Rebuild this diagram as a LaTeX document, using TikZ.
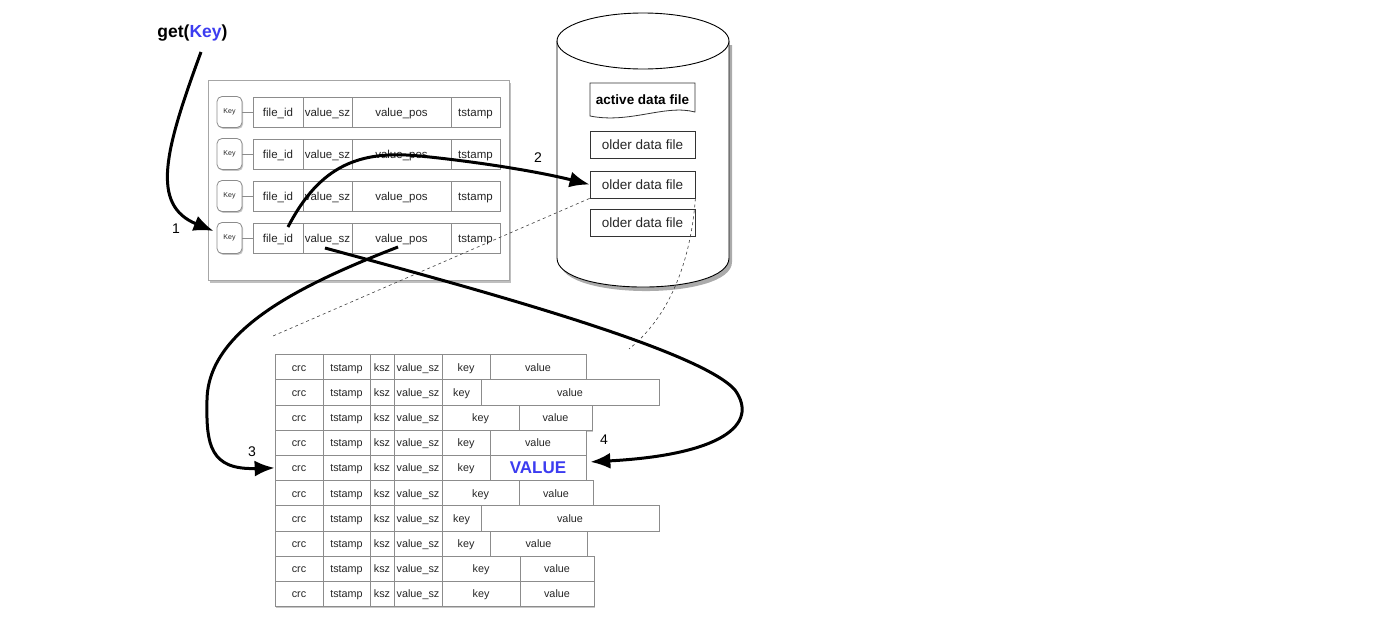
\documentclass[tikz,border=0pt]{standalone}
\usepackage{fontspec}
\setmainfont{Liberation Sans}
\usetikzlibrary{arrows.meta,shadows}
\definecolor{keyblue}{RGB}{60,60,240}
\definecolor{cellgray}{RGB}{140,140,140}
\newcommand\bigVALUEtext{\raisebox{-2.1pt}{\textcolor{keyblue}{\bfseries\fontsize{17}{18}\selectfont VALUE}}}
\begin{document}
\begin{tikzpicture}[x=1pt,y=-1pt,
  softshadow/.style={drop shadow={shadow xshift=1.2pt,shadow yshift=-1.4pt,opacity=.45,fill=black!50}},
  kcell/.style={draw=cellgray,line width=0.8pt,fill=white,minimum height=30pt,inner sep=0pt,
    text height=11.2pt,text depth=2.8pt,
    text=black!85,font=\fontsize{11.5}{12}\selectfont,softshadow},
  keybox/.style={draw=cellgray,line width=0.8pt,rounded corners=5pt,fill=white,minimum width=25pt,
    minimum height=31pt,inner sep=0pt,text=black!85,font=\fontsize{7}{8}\selectfont,softshadow},
  dcell/.style={draw=cellgray,line width=0.7pt,fill=white,minimum height=25.2pt,inner sep=0pt,
    text height=10.5pt,text depth=2.6pt,
    text=black!85,font=\fontsize{10.8}{12}\selectfont,softshadow},
  ofile/.style={draw=black!80,line width=0.8pt,fill=white,minimum width=105pt,minimum height=27pt,
    inner sep=0pt,text=black!85,font=\fontsize{13.5}{14}\selectfont},
  flow/.style={line width=3pt,-{Latex[length=20pt,width=16pt]}},
  num/.style={font=\fontsize{14}{16}\selectfont},
  guide/.style={dash pattern=on 3pt off 3pt,line width=0.6pt,black!75}
]
\useasboundingbox (0,0) rectangle (1400,627);

% get(Key)
\node[font=\bfseries\fontsize{17.5}{19}\selectfont] (gk) at (192.5,33) {get(\textcolor{keyblue}{Key})};

% keydir
\node[draw=black!35,line width=0.8pt,fill=white,minimum width=301pt,minimum height=200pt,
  drop shadow={shadow xshift=2pt,shadow yshift=-2.5pt,opacity=.5,fill=black!50}] (kd) at (358.5,180) {};
\foreach \i/\y in {1/112,2/154,3/196,4/238}{
  \node[keybox] (key\i) at (229.5,\y) {Key};
  \node[kcell,minimum width=50pt] (fid\i) at (278,\y) {file\_id};
  \node[kcell,minimum width=49pt] (vsz\i) at (327.5,\y) {value\_sz};
  \node[kcell,minimum width=99pt] (vpos\i) at (401.5,\y) {value\_pos};
  \node[kcell,minimum width=49pt] (ts\i) at (475.5,\y) {tstamp};
  \draw[cellgray,line width=0.8pt] (key\i) -- (fid\i);
}

% cylinder
\fill[black!55,opacity=.6] (560,45) -- (560,262) .. controls (560,300.7) and (732,300.7) .. (732,262) -- (732,45) -- cycle;
\path[fill=white] (557,41) -- (557,258) .. controls (557,296.7) and (729,296.7) .. (729,258) -- (729,41) -- cycle;
\draw[line width=0.9pt] (557,41) -- (557,258) .. controls (557,296.7) and (729,296.7) .. (729,258) -- (729,41);
\draw[line width=0.9pt,fill=white] (643,41) ellipse [x radius=86,y radius=28];

% data files
\draw[black!80,line width=0.8pt,fill=white] (590,83) -- (695,83) -- (695,112)
  .. controls (665,104) and (630,124) .. (590,116) -- cycle;
\node[font=\bfseries\fontsize{13.5}{14}\selectfont] (act) at (642.5,100) {active data file};
\node[ofile] (od1) at (642.5,145) {older data file};
\node[ofile] (od2) at (642.5,184.5) {older data file};
\node[ofile] (od3) at (642.5,223) {older data file};

% data file records
\foreach \i/\kr/\vr/\vt in {1/490/586/value,2/481/659/value,3/519/592/value,4/490/586/value,
  5/490/586/\bigVALUEtext,6/519/593/value,7/481/659/value,8/490/587/value,9/520/594/value,10/520/594/value}{
  \pgfmathsetmacro\yc{354.5+(\i-1)*25.2+12.6}
  \pgfmathsetmacro\kc{(442+\kr)/2}
  \pgfmathsetmacro\kw{\kr-442}
  \pgfmathsetmacro\vc{(\kr+\vr)/2}
  \pgfmathsetmacro\vw{\vr-\kr}
  \node[dcell,minimum width=48pt] (crc\i) at (299,\yc) {crc};
  \node[dcell,minimum width=47pt] (dts\i) at (346.5,\yc) {tstamp};
  \node[dcell,minimum width=24pt] (ksz\i) at (382,\yc) {ksz};
  \node[dcell,minimum width=48pt] (dvs\i) at (418,\yc) {value\_sz};
  \node[dcell,minimum width=\kw pt] (dk\i) at (\kc,\yc) {key};
  \node[dcell,minimum width=\vw pt] (dv\i) at (\vc,\yc) {\vt};
}

% guide (dashed) lines
\coordinate (gl) at (273,336);
\coordinate (gr) at (629,349);
\draw[guide] (od2.south west) -- (gl);
\draw[guide] (od2.south east) .. controls (690,270) and (665,320) .. (gr);

% flow arrows
\coordinate (s1) at (201,52);
\coordinate (s2) at ([xshift=10pt,yshift=11pt]fid4.center);
\coordinate (s3) at ([xshift=-3.5pt,yshift=-9pt]vpos4.center);
\coordinate (s4) at ([xshift=-2.5pt,yshift=-10pt]vsz4.center);
\draw[flow] (s1) .. controls (165,150) and (150,205) .. ([xshift=-3pt,yshift=7pt]key4.west);
\draw[flow] (s2) .. controls (320,165) and (360,150) .. (420,156)
  .. controls (480,162) and (540,172) .. (od2.west);
\draw[flow] (s3) .. controls (300,285) and (208,330) .. (207,400)
  .. controls (206,445) and (210,470) .. (crc5.west);
\draw[flow] (s4) .. controls (480,290) and (700,350) .. (735,390)
  .. controls (760,425) and (720,455) .. ([xshift=4pt,yshift=6pt]dv5.east);

\node[num] (n1) at (176,229) {1};
\node[num] (n2) at (538,158) {2};
\node[num] (n3) at (252,452) {3};
\node[num] (n4) at (604,440) {4};
\end{tikzpicture}
\end{document}
